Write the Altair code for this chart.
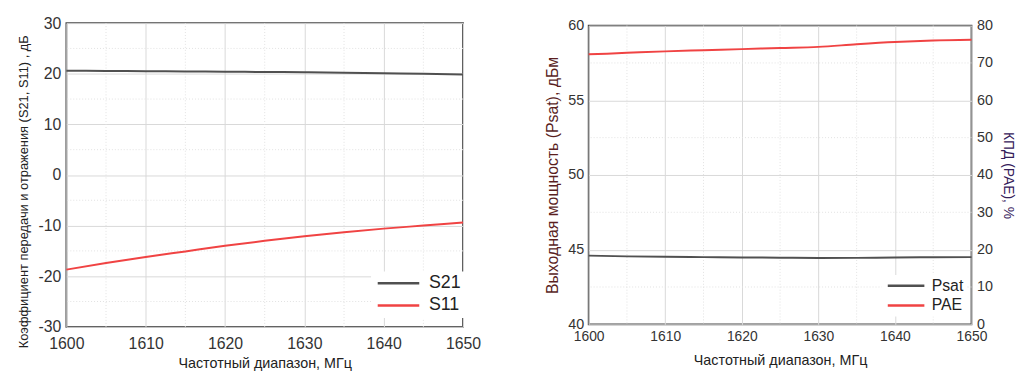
import altair as alt
import pandas as pd

freq = [1600, 1605, 1610, 1615, 1620, 1625, 1630, 1635, 1640, 1645, 1650]
s21 = [20.6, 20.55, 20.5, 20.45, 20.4, 20.35, 20.3, 20.2, 20.1, 20.0, 19.85]
s11 = [-18.7, -17.4, -16.2, -15.1, -14.0, -13.0, -12.1, -11.3, -10.6, -10.0, -9.4]
psat = [44.6, 44.55, 44.52, 44.5, 44.48, 44.46, 44.44, 44.45, 44.48, 44.49, 44.5]
pae = [72.3, 72.7, 73.1, 73.4, 73.7, 74.0, 74.3, 75.0, 75.6, 76.0, 76.2]

x_ticks = [1600, 1610, 1620, 1630, 1640, 1650]
x_minor = [1605, 1615, 1625, 1635, 1645]
left_y_ticks = [-30, -20, -10, 0, 10, 20, 30]
left_y_minor = [-25, -15, -5, 5, 15, 25]
psat_ticks = [40, 45, 50, 55, 60]
psat_minor = [42.5, 47.5, 52.5, 57.5]
pae_ticks = [0, 10, 20, 30, 40, 50, 60, 70, 80]

FONT = "Liberation Sans"
DARK = "#505050"
RED = "#f04343"
GRID = "#d9d9d9"
MINOR = "#e2e2e2"

xlab = "Частотный диапазон, МГц"
LBL = "'' + datum.value"

base_axis = dict(ticks=False, domain=False, labelColor="#333", labelFont=FONT,
                 titleFont=FONT, titleFontWeight="normal", labelExpr=LBL)


def xenc(size, lpad, tpad):
    return alt.X("f:Q", scale=alt.Scale(domain=[1600, 1650], nice=False, zero=False),
                 axis=alt.Axis(values=x_ticks, title=xlab, grid=True, gridColor=GRID,
                               labelFlush=False, labelPadding=lpad, titlePadding=tpad,
                               labelFontSize=size, titleFontSize=14.5,
                               titleColor="#222", **base_axis))


def yleft():
    return alt.Y("v:Q", scale=alt.Scale(domain=[-30, 30], nice=False),
                 axis=alt.Axis(values=left_y_ticks, title="Коэффициент передачи и отражения (S21, S11) , дБ",
                               grid=True, gridColor=GRID, labelPadding=5.5, titlePadding=8,
                               labelFontSize=16, titleFontSize=13,
                               titleColor="#222", titleY=170, **base_axis))


def ypsat():
    return alt.Y("v:Q", scale=alt.Scale(domain=[40, 60], nice=False),
                 axis=alt.Axis(values=psat_ticks, title="Выходная мощность (Psat), дБм",
                               grid=True, gridColor=GRID, labelPadding=5, titlePadding=7,
                               labelFontSize=14.5, titleFontSize=16,
                               titleColor="#5a1f1f", **base_axis))


def legend(length, font, rowpad, gap, lx, ly):
    r = length / 8.0
    return alt.Legend(orient="none", legendX=lx, legendY=ly, title=None, symbolType="M-1,0H7",
                      symbolSize=(2 * r) ** 2, symbolStrokeWidth=2.4,
                      labelFontSize=font, labelFont=FONT, labelColor="#222",
                      fillColor="white", padding=3, rowPadding=rowpad,
                      labelOffset=6 * r + gap)


LX = (16, 9, 5)
RX = (14, 5, 11)

# ---------------- Left chart ----------------
df_l = pd.DataFrame({"f": freq * 2, "v": s21 + s11, "s": ["S21"] * len(freq) + ["S11"] * len(freq)})

minor_x_l = alt.Chart(pd.DataFrame({"f": x_minor})).mark_rule(
    color=MINOR, strokeDash=[1, 2], strokeWidth=1).encode(x=xenc(*LX))
minor_y_l = alt.Chart(pd.DataFrame({"v": left_y_minor})).mark_rule(
    color=MINOR, strokeDash=[1, 2], strokeWidth=1).encode(y=yleft())

lines_l = alt.Chart(df_l).mark_line(strokeWidth=2, interpolate="monotone").encode(
    x=xenc(*LX),
    y=yleft(),
    color=alt.Color("s:N", scale=alt.Scale(domain=["S21", "S11"], range=[DARK, RED]),
                    legend=legend(42, 18, 4.5, 6, 308, 251)),
)

left = alt.layer(minor_x_l, minor_y_l, lines_l).properties(width=401, height=307)

# ---------------- Right chart ----------------
df_p = pd.DataFrame({"f": freq, "v": psat, "s": ["Psat"] * len(freq)})
df_e = pd.DataFrame({"f": freq, "v": pae, "s": ["PAE"] * len(freq)})

cscale = alt.Scale(domain=["Psat", "PAE"], range=[DARK, RED])

minor_x_r = alt.Chart(pd.DataFrame({"f": x_minor})).mark_rule(
    color=MINOR, strokeDash=[1, 2], strokeWidth=1).encode(x=xenc(*RX))
minor_y_r = alt.Chart(pd.DataFrame({"v": psat_minor})).mark_rule(
    color=MINOR, strokeDash=[1, 2], strokeWidth=1).encode(y=ypsat())

psat_line = alt.Chart(df_p).mark_line(strokeWidth=2, interpolate="monotone").encode(
    x=xenc(*RX),
    y=ypsat(),
    color=alt.Color("s:N", scale=cscale, legend=legend(37, 16, 4, 4, 296, 252)),
)

pae_line = alt.Chart(df_e).mark_line(strokeWidth=2, interpolate="monotone").encode(
    x=xenc(*RX),
    y=alt.Y("v:Q", scale=alt.Scale(domain=[0, 80], nice=False),
            axis=alt.Axis(values=pae_ticks, title="КПД (PAE), %", orient="right",
                          grid=False, labelPadding=5, titlePadding=8,
                          labelFontSize=14.5, titleFontSize=14,
                          titleColor="#35205a", **base_axis)),
    color=alt.Color("s:N", scale=cscale, legend=legend(37, 16, 4, 4, 296, 252)),
)

right = alt.layer(
    alt.layer(minor_x_r, minor_y_r, psat_line),
    pae_line,
).resolve_scale(y="independent").properties(
    width=387, height=302,
    title=alt.TitleParams(text=" ", fontSize=17.5, offset=2),
)

chart = alt.hconcat(left, right, spacing=62, center=True).resolve_scale(
    color="independent"
).resolve_legend(color="independent").configure(
    background="white", padding={"left": 8, "right": 0, "top": -13, "bottom": 0}
).configure_view(stroke="#474747", strokeWidth=1.8)

chart.save("out.html", embed_options={"renderer": "svg", "actions": False})
